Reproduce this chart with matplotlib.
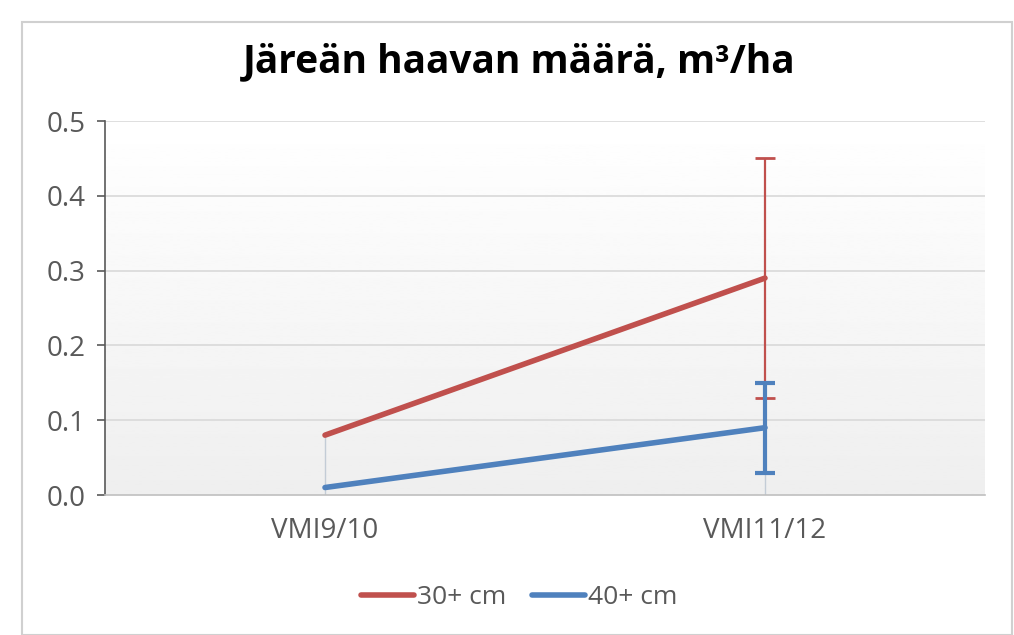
import numpy as np
import matplotlib.pyplot as plt
from matplotlib.patches import Rectangle

# data
categories = ['VMI9/10', 'VMI11/12']
v30 = [0.08, 0.29]
v40 = [0.01, 0.09]
err30 = [0.0, 0.16]
err40 = [0.0, 0.06]
drop_top = [0.08, 0.03]   # thin drop lines down to the axis

red = '#C0504D'
blue = '#4F81BD'
gray_txt = '#595959'

plt.rcParams['font.family'] = ['Open Sans', 'DejaVu Sans']

fig = plt.figure(figsize=(10.14, 6.35), dpi=100)
fig.patches.append(Rectangle((22 / 1014, 0), 1 - 24 / 1014, 1 - 22 / 635,
                             transform=fig.transFigure, fill=False,
                             edgecolor='#d0d0d0', linewidth=1.5))

ax = fig.add_axes([105 / 1014, 1 - 495 / 635, 880 / 1014, 374 / 635])
x = np.arange(len(categories))

# gradient plot background
grad = np.linspace(1.0, 0.935, 256).reshape(-1, 1)
ax.imshow(grad, cmap='gray', vmin=0, vmax=1, aspect='auto',
          extent=[-0.5, 1.5, 0, 0.5], zorder=0, origin='upper')

for yv in [0.1, 0.2, 0.3, 0.4, 0.5]:
    ax.axhline(yv, color='#d9d9d9', linewidth=1.2, zorder=1)

ax.vlines(x, 0, drop_top, color='#c3ccd6', linewidth=1.0, zorder=2)

ax.plot(x, v30, color=red, linewidth=4, solid_capstyle='round', zorder=4, label='30+ cm')
ax.plot(x, v40, color=blue, linewidth=4, solid_capstyle='round', zorder=4, label='40+ cm')
ax.errorbar(x[1:], v30[1:], yerr=err30[1:], fmt='none', ecolor=red,
            elinewidth=1.6, capsize=7, capthick=2, zorder=3)
ax.errorbar(x[1:], v40[1:], yerr=err40[1:], fmt='none', ecolor=blue,
            elinewidth=3, capsize=7, capthick=3, zorder=5)

ax.set_xlim(-0.5, 1.5)
ax.set_ylim(0, 0.5)
ax.set_yticks([0, 0.1, 0.2, 0.3, 0.4, 0.5])
ax.set_yticklabels(['0.0', '0.1', '0.2', '0.3', '0.4', '0.5'])
ax.set_xticks(x)
ax.set_xticklabels(categories)
ax.tick_params(axis='y', length=6, width=1.2, color='#595959', labelsize=20,
               labelcolor=gray_txt, pad=8)
ax.tick_params(axis='x', length=0, labelsize=20, labelcolor=gray_txt, pad=16)
for s in ['top', 'right']:
    ax.spines[s].set_visible(False)
ax.spines['left'].set_color('#595959')
ax.spines['left'].set_linewidth(1.2)
ax.spines['bottom'].set_color('#bfbfbf')
ax.spines['bottom'].set_linewidth(1.2)

fig.text(0.512, 1 - 62 / 635, 'Järeän haavan määrä, m³/ha', ha='center',
         va='center', fontsize=28, fontweight='bold', color='black')

fig.legend(loc='center', bbox_to_anchor=(0.512, 1 - 598 / 635), ncol=2,
           frameon=False, fontsize=19, handlelength=2.0, handletextpad=0.1,
           columnspacing=1.0, labelcolor=gray_txt)

plt.savefig('out.png', dpi=100)
